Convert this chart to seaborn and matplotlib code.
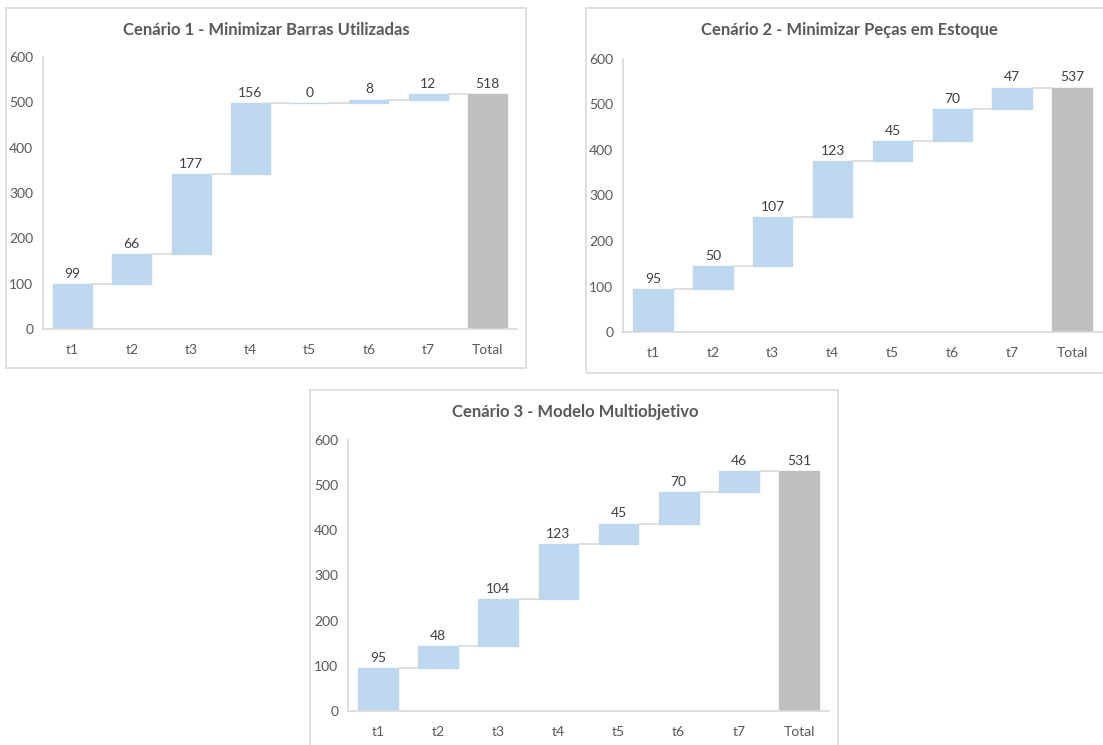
import numpy as np
import pandas as pd
import matplotlib
matplotlib.use("Agg")
import matplotlib.pyplot as plt
import seaborn as sns
from matplotlib.patches import Rectangle

# Etapas e rótulo da barra final
steps = ["t1", "t2", "t3", "t4", "t5", "t6", "t7"]
total_label = "Total"

# Cenários
title_1 = "Cenário 1 - Minimizar Barras Utilizadas"
values_1 = [99, 66, 177, 156, 0, 8, 12]

title_2 = "Cenário 2 - Minimizar Peças em Estoque"
values_2 = [95, 50, 107, 123, 45, 70, 47]

title_3 = "Cenário 3 - Modelo Multiobjetivo"
values_3 = [95, 48, 104, 123, 45, 70, 46]

y_ticks = [0, 100, 200, 300, 400, 500, 600]

STEP_COLOR = "#BDD7EE"
TOTAL_COLOR = "#BFBFBF"
LINE_COLOR = "#D9D9D9"
TICK_COLOR = "#595959"
LABEL_COLOR = "#404040"

sns.set_theme(style="white")
plt.rcParams["font.family"] = ["Lato", "DejaVu Sans"]

W, H = 1103, 745
fig = plt.figure(figsize=(W / 100, H / 100), dpi=100)
fig.patch.set_facecolor("white")


def px_axes(x0, y0, x1, y1):
    return fig.add_axes([x0 / W, 1 - y1 / H, (x1 - x0) / W, (y1 - y0) / H])


def frame(x0, y0, x1, y1):
    fig.add_artist(Rectangle((x0 / W, 1 - y1 / H), (x1 - x0) / W, (y1 - y0) / H,
                             transform=fig.transFigure, fill=False,
                             edgecolor=LINE_COLOR, linewidth=1.2, clip_on=False))


def waterfall(ax, values):
    values = np.asarray(values)
    cum = np.cumsum(values)
    total = int(cum[-1])
    df = pd.DataFrame({
        "etapa": steps + [total_label],
        "altura": list(values) + [total],
        "base": list(cum - values) + [0],
    })
    sns.barplot(data=df, x="etapa", y="altura", order=list(df["etapa"]),
                bottom=df["base"].to_numpy(), color=STEP_COLOR, saturation=1,
                width=0.66, errorbar=None, ax=ax,
                edgecolor=STEP_COLOR, linewidth=1)
    bars = ax.patches
    bars[-1].set_facecolor(TOTAL_COLOR)
    bars[-1].set_edgecolor(TOTAL_COLOR)

    # Linhas de ligação entre as barras
    for i in range(len(values)):
        x0 = bars[i].get_x() + bars[i].get_width()
        x1 = bars[i + 1].get_x()
        ax.plot([x0, x1], [cum[i], cum[i]], color=LINE_COLOR, linewidth=1.2,
                solid_capstyle="butt", zorder=1)

    # Rótulos de valor
    tops = list(cum) + [total]
    labels = list(values) + [total]
    for bar, top, lab in zip(bars, tops, labels):
        ax.annotate(f"{lab}", (bar.get_x() + bar.get_width() / 2, top),
                    xytext=(0, 3), textcoords="offset points",
                    ha="center", va="bottom", fontsize=10, color=LABEL_COLOR)

    ax.set_ylim(0, 600)
    ax.set_xlim(-0.5, len(steps) + 0.5)
    ax.set_yticks(y_ticks)
    ax.set_xlabel("")
    ax.set_ylabel("")
    for side in ("top", "right"):
        ax.spines[side].set_visible(False)
    for side in ("left", "bottom"):
        ax.spines[side].set_color(LINE_COLOR)
        ax.spines[side].set_linewidth(1.2)
    ax.tick_params(axis="both", length=0, labelsize=10, labelcolor=TICK_COLOR)
    ax.tick_params(axis="y", pad=7)
    ax.tick_params(axis="x", pad=11)
    ax.set_facecolor("none")


# Molduras dos três gráficos
frame(6, 8, 526, 368)
frame(586, 8, 1112, 373)
frame(310, 390, 838, 760)

ax1 = px_axes(43, 57, 517, 329)
waterfall(ax1, values_1)
ax2 = px_axes(623, 59, 1102, 332)
waterfall(ax2, values_2)
ax3 = px_axes(348, 440, 829, 711)
waterfall(ax3, values_3)

title_kw = dict(ha="center", va="center", fontsize=12, fontweight="bold",
                color=TICK_COLOR)
fig.text(266 / W, 1 - 30 / H, title_1, **title_kw)
fig.text(849 / W, 1 - 30 / H, title_2, **title_kw)
fig.text(575 / W, 1 - 412 / H, title_3, **title_kw)

fig.savefig("out.png", dpi=100, facecolor="white")
